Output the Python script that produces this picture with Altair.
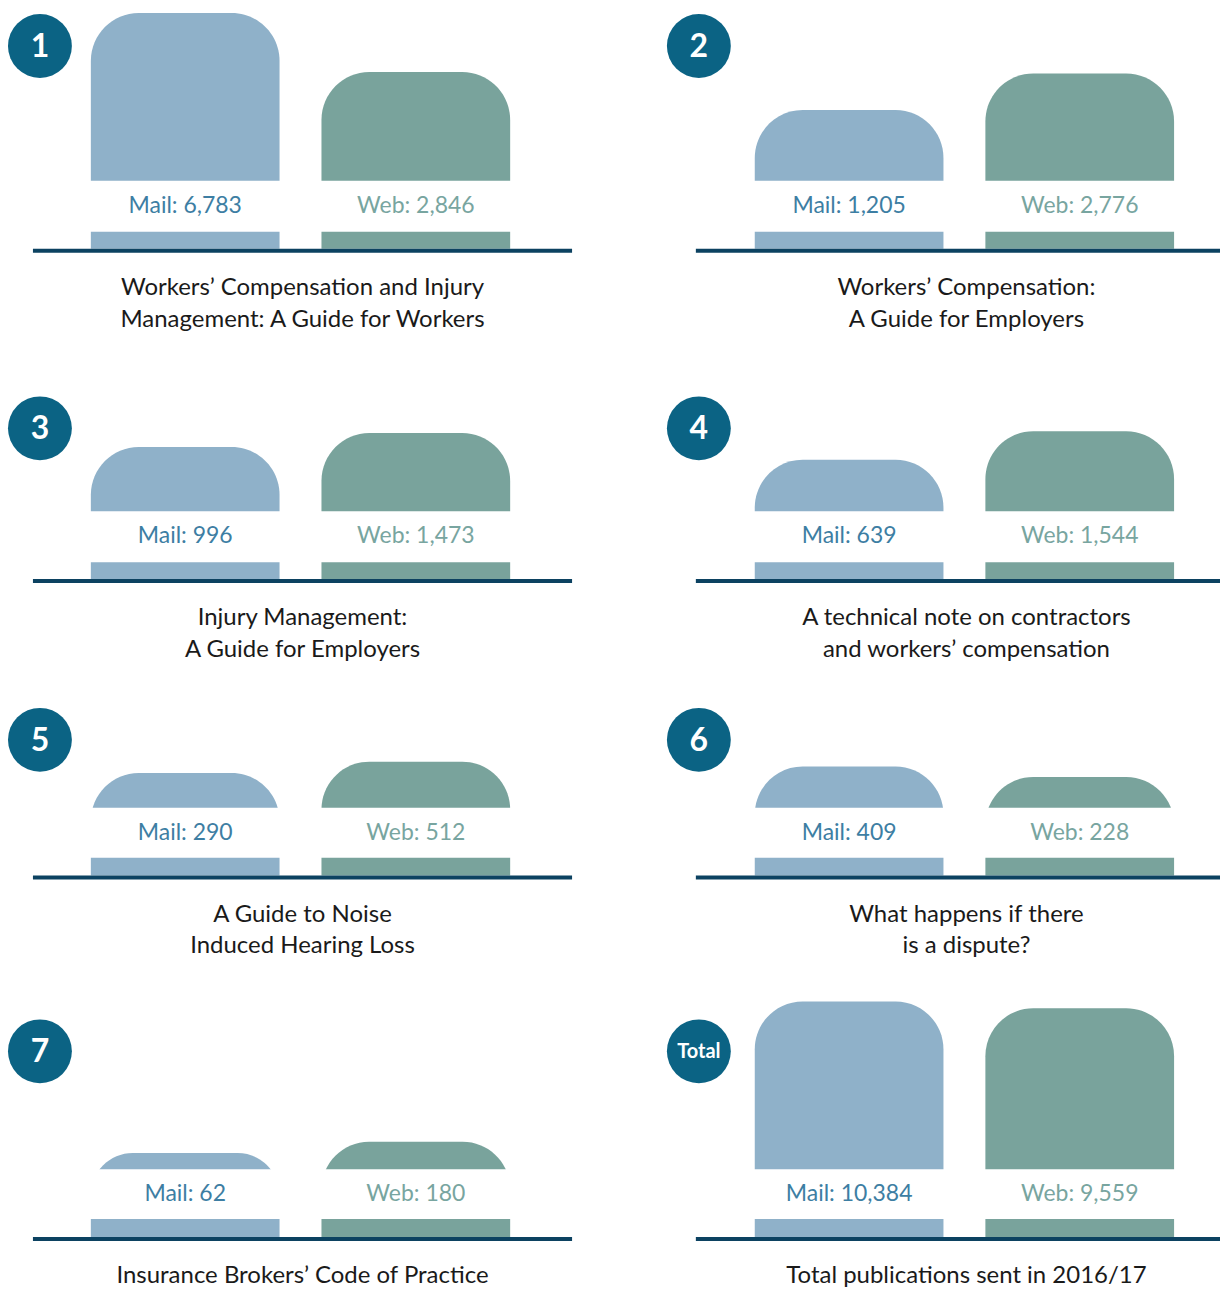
import altair as alt
import pandas as pd

# ---- data ----
badges = ["1", "2", "3", "4", "5", "6", "7", "Total"]
titles = [
    "Workers’ Compensation and Injury\nManagement: A Guide for Workers",
    "Workers’ Compensation:\nA Guide for Employers",
    "Injury Management:\nA Guide for Employers",
    "A technical note on contractors\nand workers’ compensation",
    "A Guide to Noise\nInduced Hearing Loss",
    "What happens if there\nis a dispute?",
    "Insurance Brokers’ Code of Practice",
    "Total publications sent in 2016/17",
]
channels = ["Mail", "Web"]
mail = [6783, 1205, 996, 639, 290, 409, 62, 10384]
web = [2846, 2776, 1473, 1544, 512, 228, 180, 9559]

# ---- styles / layout ----
FONT = "Lato"
MAIL_BAR, WEB_BAR = "#8fb1c9", "#79a39c"
MAIL_TXT, WEB_TXT = "#3d7ea3", "#78a5a0"
BADGE = "#0b6384"
RULE = "#0c4261"
BAR_SPAN = 168

ROWS = [
    dict(h=350, band=180, strip=231, rule=250, badge=45),
    dict(h=330, band=161, strip=212, rule=231, badge=78),
    dict(h=300, band=128, strip=178, rule=198, badge=60),
    dict(h=310, band=190, strip=240, rule=260, badge=72),
]
COLS = [
    dict(w=661, badge=40, x0=91, x1=511, r0=33, r1=573, tx=303),
    dict(w=561, badge=39, x0=95, x1=515, r0=36, r1=561, tx=307),
]


def panel(i):
    r = ROWS[i // 2]
    c = COLS[i % 2]
    dmax = mail[7] if i == 7 else mail[0]
    vals = [mail[i], web[i]]
    df = pd.DataFrame({
        "channel": channels,
        "value": vals,
        "label": [f"{ch}: {v:,}" for ch, v in zip(channels, vals)],
    })
    one = pd.DataFrame({"k": [0]})

    xs = alt.X("channel:N", axis=None,
               scale=alt.Scale(domain=channels, range=[c["x0"], c["x1"]],
                               paddingInner=0.1818, paddingOuter=0))
    ys = alt.Y("value:Q", axis=None,
               scale=alt.Scale(type="sqrt", domain=[0, dmax],
                               range=[r["band"], r["band"] - BAR_SPAN]))

    bars = alt.Chart(df).mark_rect(cornerRadiusTopLeft=48, cornerRadiusTopRight=48).encode(
        x=xs, y=ys, y2=alt.value(r["rule"] - 2),
        color=alt.Color("channel:N", legend=None,
                        scale=alt.Scale(domain=channels, range=[MAIL_BAR, WEB_BAR])),
    )
    band = alt.Chart(one).mark_rect(color="white").encode(
        x=alt.value(0), x2=alt.value(c["w"]),
        y=alt.value(r["band"]), y2=alt.value(r["strip"]),
    )
    labels = alt.Chart(df).mark_text(font=FONT, fontSize=23, baseline="alphabetic").encode(
        x=xs, y=alt.value(r["band"] + 32), text="label:N",
        color=alt.Color("channel:N", legend=None,
                        scale=alt.Scale(domain=channels, range=[MAIL_TXT, WEB_TXT])),
    )
    rule = alt.Chart(one).mark_rule(color=RULE, strokeWidth=4).encode(
        x=alt.value(c["r0"]), x2=alt.value(c["r1"]), y=alt.value(r["rule"]),
    )
    circle = alt.Chart(one).mark_circle(size=4096, color=BADGE, opacity=1).encode(
        x=alt.value(c["badge"]), y=alt.value(r["badge"]),
    )
    num = alt.Chart(one).mark_text(
        font=FONT, fontWeight="bold", color="white",
        fontSize=20 if i == 7 else 32, baseline="middle", align="center",
    ).encode(x=alt.value(c["badge"]), y=alt.value(r["badge"] + 1), text=alt.value(badges[i]))
    title = alt.Chart(one).mark_text(
        font=FONT, fontSize=24, color="#1a1a1a", lineBreak="\n", lineHeight=32,
        baseline="alphabetic", align="center",
    ).encode(x=alt.value(c["tx"]), y=alt.value(r["rule"] + 44), text=alt.value(titles[i]))

    return alt.layer(bars, band, labels, rule, circle, num, title).resolve_scale(
        color="independent"
    ).properties(width=c["w"], height=r["h"])


rows = [alt.hconcat(panel(2 * k), panel(2 * k + 1), spacing=0) for k in range(4)]
chart = alt.vconcat(*rows, spacing=0).properties(
    padding=0, background="white"
).configure_view(stroke=None)

chart.save("out.html", embed_options={"renderer": "svg", "actions": False})
